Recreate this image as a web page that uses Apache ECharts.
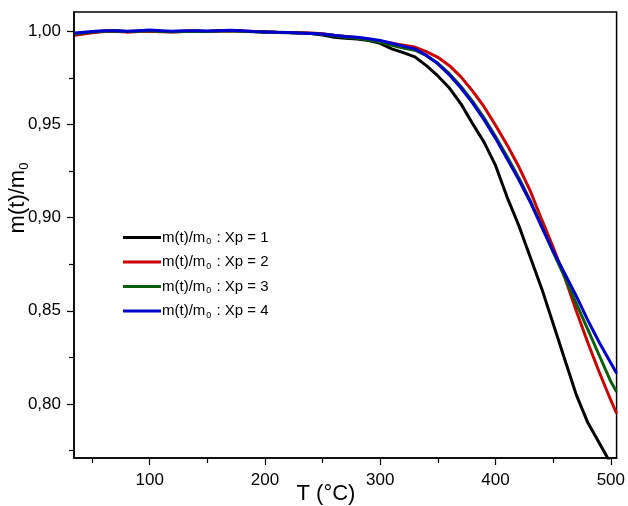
<!DOCTYPE html>
<html>
<head>
<meta charset="utf-8">
<script src="https://cdn.jsdelivr.net/npm/echarts@6/dist/echarts.min.js"></script>
<style>html,body{margin:0;padding:0;background:#fff}#c{width:628px;height:506px}</style>
</head>
<body>
<div id="c"></div>
<script>
var temps = [35,50,60,70,80,90,100,110,120,130,140,150,160,170,180,190,200,210,220,230,240,250,260,270,280,290,300,310,320,330,340,350,360,370,380,390,400,410,420,430,440,450,460,470,480,490,500,505];
var xp1 = [0.9985,0.9995,1.0000,1.0002,0.9998,1.0000,1.0003,1.0000,0.9998,1.0000,1.0001,0.9999,1.0002,1.0004,1.0000,0.9998,0.9997,0.9995,0.9993,0.9990,0.9988,0.9980,0.9968,0.9962,0.9958,0.9950,0.9935,0.9905,0.9885,0.9862,0.9815,0.9760,0.9695,0.9610,0.9505,0.9405,0.9280,0.9110,0.8960,0.8790,0.8620,0.8430,0.8240,0.8050,0.7900,0.7790,0.7680,0.7630];
var xp2 = [0.9978,0.9992,0.9998,1.0000,0.9995,0.9998,1.0000,0.9997,0.9996,0.9998,0.9999,0.9998,1.0001,1.0003,1.0001,0.9999,0.9996,0.9994,0.9993,0.9992,0.9990,0.9986,0.9978,0.9972,0.9965,0.9955,0.9945,0.9935,0.9925,0.9915,0.9890,0.9860,0.9815,0.9755,0.9680,0.9595,0.9495,0.9390,0.9275,0.9145,0.8990,0.8840,0.8680,0.8500,0.8330,0.8170,0.8020,0.7950];
var xp3 = [0.9985,0.9995,1.0000,1.0001,0.9998,1.0000,1.0002,0.9999,0.9997,0.9999,1.0000,0.9998,1.0001,1.0002,1.0000,0.9997,0.9995,0.9993,0.9992,0.9990,0.9987,0.9983,0.9975,0.9968,0.9962,0.9952,0.9940,0.9925,0.9910,0.9898,0.9870,0.9828,0.9772,0.9703,0.9625,0.9535,0.9435,0.9328,0.9215,0.9092,0.8955,0.8815,0.8680,0.8540,0.8400,0.8260,0.8120,0.8065];
var xp4 = [0.9990,0.9998,1.0002,1.0003,1.0000,1.0003,1.0006,1.0003,1.0000,1.0002,1.0003,1.0001,1.0003,1.0005,1.0002,0.9998,0.9996,0.9994,0.9993,0.9990,0.9988,0.9985,0.9978,0.9972,0.9968,0.9960,0.9950,0.9935,0.9920,0.9905,0.9870,0.9825,0.9765,0.9695,0.9615,0.9525,0.9425,0.9315,0.9205,0.9085,0.8950,0.8820,0.8700,0.8580,0.8450,0.8330,0.8220,0.8165];
var seriesNames = ['Xp = 1','Xp = 2','Xp = 3','Xp = 4'];
var xTicks = [100,200,300,400,500];
var xMinorTicks = [50,150,250,350,450];
var yTicks = [0.80,0.85,0.90,0.95,1.00];
var yMinorTicks = [0.775,0.825,0.875,0.925,0.975];
var colors = ['#000000','#cc0000','#0b5e0b','#0000cc'];

function pairs(v){ return temps.map(function(t,i){ return [t, v[i]]; }); }
var font = 'Liberation Sans, Arial, sans-serif';
var chart = echarts.init(document.getElementById('c'));
var allData = [xp1,xp2,xp3,xp4];
chart.setOption({
  animation: false,
  grid: {left: 74, right: 10, top: 12, bottom: 48, show: true, borderColor: '#000', borderWidth: 1.5},
  xAxis: [{
    type: 'value', min: 34.3, max: 505, position: 'bottom',
    splitLine: {show: false},
    axisLine: {lineStyle: {color: '#000', width: 1.5}},
    axisTick: {customValues: xTicks, length: 7, lineStyle: {color: '#000', width: 1.2}},
    axisLabel: {customValues: xTicks, color: '#000', fontFamily: font, fontSize: 17, margin: 14}
  },{
    type: 'value', min: 34.3, max: 505, position: 'bottom',
    splitLine: {show: false},
    axisLine: {show: false},
    axisTick: {customValues: xMinorTicks, length: 5, lineStyle: {color: '#000', width: 1.2}},
    axisLabel: {show: false}
  }],
  yAxis: [{
    type: 'value', min: 0.771, max: 1.0103, position: 'left',
    splitLine: {show: false},
    axisLine: {show: true, lineStyle: {color: '#000', width: 1.5}},
    axisTick: {show: true, customValues: yTicks, length: 7, lineStyle: {color: '#000', width: 1.2}},
    axisLabel: {customValues: yTicks, color: '#000', fontFamily: font, fontSize: 17, margin: 13,
      formatter: function(v){ return v.toFixed(2).replace('.', ','); }}
  },{
    type: 'value', min: 0.771, max: 1.0103, position: 'left',
    splitLine: {show: false},
    axisLine: {show: false},
    axisTick: {show: true, customValues: yMinorTicks, length: 5, lineStyle: {color: '#000', width: 1.2}},
    axisLabel: {show: false}
  }],
  legend: {
    orient: 'vertical', left: 123, top: 230, padding: 0, itemWidth: 38, itemHeight: 3, itemGap: 8,
    icon: 'rect',
    data: seriesNames,
    formatter: function(n){ return '{a|m(t)/m}{s|0}{a| : ' + n + '}'; },
    textStyle: {
      color: '#000', fontFamily: font, fontSize: 15, padding: [0,0,0,-4],
      rich: {
        a: {fontFamily: font, fontSize: 15, color: '#000', lineHeight: 18},
        s: {fontFamily: font, fontSize: 9, color: '#000', lineHeight: 9, verticalAlign: 'bottom', padding: [0,1,0,1]}
      }
    }
  },
  graphic: [
    {type: 'text', x: 18, y: 198, rotation: Math.PI/2,
      style: {text: '{a|m(t)/m}{s|0}', align: 'center', verticalAlign: 'middle',
        rich: {
          a: {fontFamily: font, fontSize: 22, fill: '#000', lineHeight: 26},
          s: {fontFamily: font, fontSize: 13, fill: '#000', lineHeight: 13, verticalAlign: 'bottom'}
        }}},
    {type: 'text', x: 326, y: 494,
      style: {text: 'T (°C)', fontFamily: font, fontSize: 22, fill: '#000', align: 'center', verticalAlign: 'middle'}}
  ],
  series: seriesNames.map(function(n, i){
    return {
      name: n, type: 'line', data: pairs(allData[i]), symbol: 'none', smooth: false,
      xAxisIndex: 0, yAxisIndex: 0, clip: true,
      lineStyle: {color: colors[i], width: 3}, itemStyle: {color: colors[i]}
    };
  })
});
</script>
</body>
</html>
